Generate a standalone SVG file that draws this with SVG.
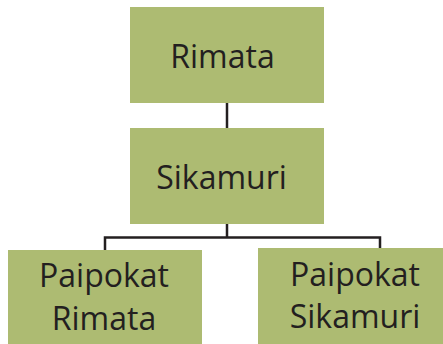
<svg xmlns="http://www.w3.org/2000/svg" width="443" height="344" viewBox="0 0 443 344">
<style>
.box{fill:#ADBB72;}
.t{font-family:"Open Sans","Noto Sans",sans-serif;font-size:32px;fill:#231F20;text-anchor:middle;}
.c{stroke:#231F20;stroke-width:2.5;fill:none;}
</style>
<rect width="443" height="344" fill="#fff"/>
<g id="connectors">
<path class="c" d="M227 103V128"/>
<path class="c" d="M227 224V237.5M105 250V237.5H380V248"/>
</g>
<g id="rimata"><rect class="box" x="130" y="7" width="194" height="96"/><text class="t" x="222.5" y="68">Rimata</text></g>
<g id="sikamuri"><rect class="box" x="130" y="128" width="194" height="96"/><text class="t" x="221.5" y="189">Sikamuri</text></g>
<g id="paipokat-rimata"><rect class="box" x="8" y="250" width="194" height="94"/><text class="t" x="104" y="287">Paipokat</text><text class="t" x="104" y="330">Rimata</text></g>
<g id="paipokat-sikamuri"><rect class="box" x="258" y="248" width="185" height="96"/><text class="t" x="355" y="286">Paipokat</text><text class="t" x="355" y="328">Sikamuri</text></g>
</svg>
